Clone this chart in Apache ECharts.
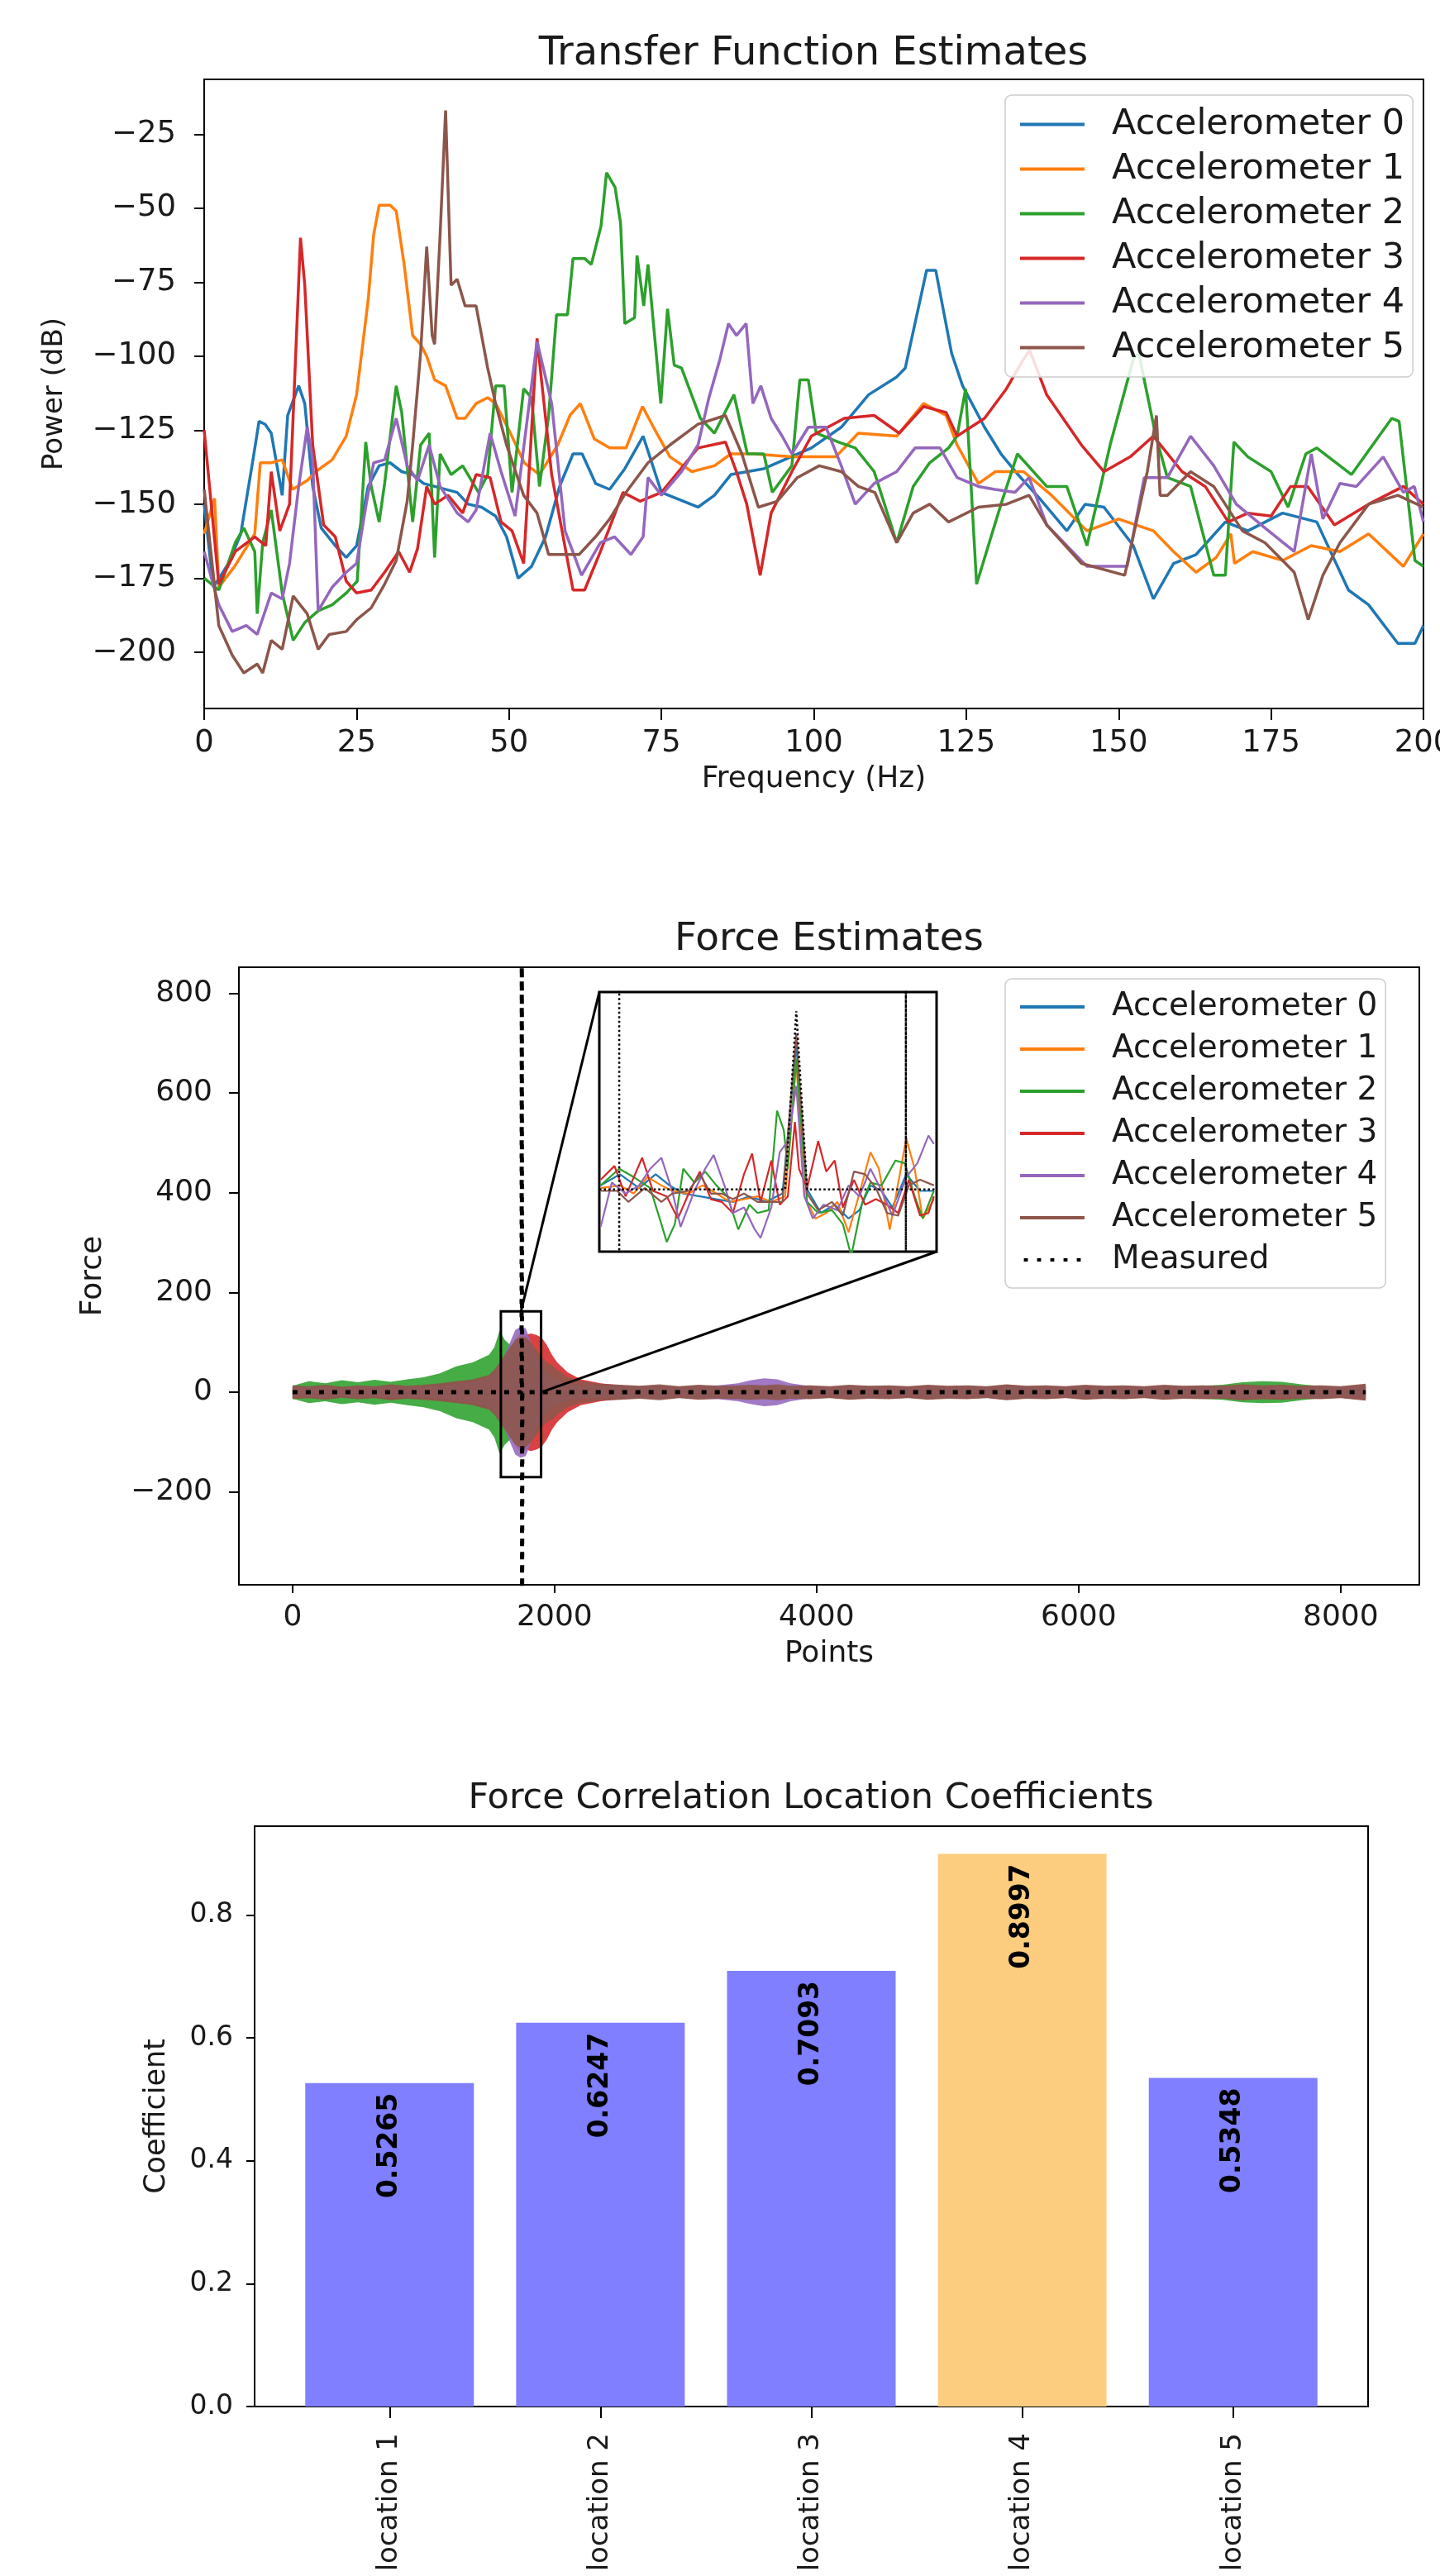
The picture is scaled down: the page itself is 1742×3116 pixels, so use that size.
<!DOCTYPE html>
<html>
<head>
<meta charset="utf-8">
<script src="https://cdn.jsdelivr.net/npm/echarts@6.0.0/dist/echarts.min.js"></script>
<style>
html, body { margin: 0; padding: 0; background: #fff; }
#main { width: 1742px; height: 3116px; }
</style>
</head>
<body>
<div id="main"></div>
<script>
// ---------- Transfer Function Estimates: [frequency Hz, power dB] ----------
const tfAcc0 = [[0,-150],[1.5,-178],[4,-170],[6,-160],[8,-135],[9,-122],[10,-123],[11,-126],[12.8,-147],[13.7,-120],[15.5,-110],[16.5,-116],[17.8,-144],[19.2,-158],[21.5,-164],[23.3,-168],[25,-164],[26.9,-144],[28.7,-137],[30.5,-136],[32.4,-139],[34.2,-140],[36,-143],[37.8,-144],[41.5,-146],[43.3,-150],[45.5,-151],[47.8,-154],[49.6,-161],[51.5,-175],[53.7,-171],[56,-161],[58.3,-144],[60.5,-133],[62,-133],[64.2,-143],[66.5,-145],[69,-138],[72,-127],[75,-146],[81,-151],[83.7,-147],[86.4,-140],[91.8,-138],[99.6,-131],[104.5,-124],[109,-113],[113.6,-107],[115,-104],[118.5,-71],[120,-71],[122.6,-99],[124.4,-110],[128,-124],[130.7,-133],[133.5,-140],[137,-148],[141.5,-159],[144.5,-150],[147.6,-151],[152.4,-164],[155.7,-182],[159,-170],[162.7,-167],[167.5,-156],[171.2,-159],[176.9,-153],[182.5,-156],[187.7,-179],[191,-184],[195.8,-197],[198.6,-197],[200,-191]];
const tfAcc1 = [[0,-160],[1.7,-148],[2.4,-178],[5,-171],[8.3,-160],[9.2,-136],[11,-136],[12.8,-135],[14.5,-145],[16.9,-142],[18.3,-139],[21,-135],[23.3,-127],[25,-113],[26.9,-81],[27.8,-59],[28.7,-49],[30.5,-49],[31.5,-51],[32.8,-69],[34.2,-93],[35.5,-96],[36.5,-100],[37.8,-108],[39.6,-110],[41.5,-121],[42.8,-121],[44.6,-116],[46.5,-114],[47.8,-116],[50,-125],[52.5,-136],[55,-140],[58,-130],[60,-120],[61.7,-116],[64,-128],[66.5,-131],[69.2,-131],[71.9,-117],[73.7,-124],[76.4,-134],[80,-139],[83.7,-137],[86.4,-133],[90,-133],[96.4,-134],[103.6,-134],[107.3,-126],[113.6,-127],[118,-116],[121.7,-120],[123.5,-130],[127,-143],[129.8,-139],[134.4,-139],[139,-147],[144.8,-159],[150,-155],[155.7,-159],[159,-166],[162.7,-173],[166,-168],[168.4,-160],[169,-170],[172,-166],[176.9,-169],[181.6,-164],[186.3,-166],[191,-160],[196.7,-171],[200,-160]];
const tfAcc2 = [[0,-175],[2.4,-179],[5.1,-163],[6.5,-158],[8.3,-166],[8.7,-187],[9.6,-163],[11,-152],[12.8,-180],[14.6,-196],[16.5,-190],[18.7,-186],[21,-184],[23.3,-180],[25.1,-176],[26.5,-129],[27.4,-144],[28.7,-156],[29.6,-143],[31.5,-110],[32.4,-119],[34.2,-156],[35.5,-130],[36.9,-126],[37.8,-168],[38.7,-133],[40.5,-140],[42.4,-137],[45,-146],[46.5,-140],[47.8,-110],[49.2,-110],[50.5,-146],[52.4,-111],[53.7,-114],[55,-144],[56.5,-120],[57.8,-86],[59.6,-86],[60.5,-67],[62.4,-67],[63.5,-69],[65.1,-56],[66,-38],[67.4,-43],[68.3,-55],[69,-89],[70.6,-87],[71,-66],[72.1,-83],[72.8,-69],[74.9,-116],[76,-84],[77.1,-103],[78.3,-104],[81.4,-121],[83.7,-126],[86.9,-113],[89.1,-133],[91.8,-133],[93.2,-146],[96.4,-137],[97.7,-108],[99.1,-108],[100.4,-126],[104,-129],[106.8,-131],[109.9,-139],[113.6,-163],[116.3,-144],[119,-136],[122.1,-131],[123.5,-127],[124.9,-111],[126.7,-177],[130.7,-150],[133.4,-133],[138.2,-144],[141.5,-144],[144.8,-164],[148.6,-130],[152.4,-101],[153.3,-99],[156.1,-127],[158,-141],[161.8,-144],[165.6,-174],[167.5,-174],[168.9,-129],[171.2,-134],[175,-139],[177.8,-151],[180.7,-133],[182.5,-131],[188.2,-140],[194.8,-121],[196,-122],[198.6,-169],[200,-171]];
const tfAcc3 = [[0,-125],[2.4,-177],[5.1,-166],[8.3,-161],[10.1,-164],[11,-139],[12.4,-159],[14,-150],[15.8,-60],[16.5,-76],[17.8,-130],[19.6,-157],[21.5,-161],[23.3,-176],[25,-180],[27.4,-179],[29.6,-173],[31.9,-166],[33.7,-173],[35,-165],[36.5,-144],[37.8,-150],[40,-147],[42.4,-153],[44.6,-140],[46.9,-141],[48.7,-156],[50.5,-159],[52.4,-170],[54.6,-94],[57,-140],[60.5,-179],[62.4,-179],[65,-166],[68.7,-146],[71.5,-149],[75,-146],[81,-131],[85.5,-129],[87.3,-139],[89,-150],[91.2,-174],[93,-153],[96.4,-139],[99.6,-127],[105,-121],[109.9,-120],[114,-126],[118,-117],[121.7,-119],[123.5,-127],[128,-121],[131.6,-111],[134.4,-101],[135.4,-98],[138.2,-113],[143.9,-130],[147.6,-139],[151.9,-134],[155.7,-127],[160.4,-139],[164.2,-144],[168,-156],[171.2,-153],[175,-154],[178.2,-144],[181,-144],[185.4,-157],[191,-150],[196.7,-144],[200,-150]];
const tfAcc4 = [[0,-166],[2.4,-184],[4.6,-193],[6.9,-191],[8.7,-194],[11,-180],[12.8,-182],[14,-170],[15.5,-144],[16.9,-124],[17.8,-135],[18.7,-186],[21,-178],[23.3,-173],[25,-170],[26.5,-151],[27.8,-136],[29.6,-135],[31.5,-121],[33.3,-137],[35,-142],[36.9,-130],[38.7,-144],[41.5,-153],[43.3,-156],[44.6,-152],[46.9,-126],[48.7,-139],[51,-154],[54.6,-95],[57,-116],[59.2,-159],[61.9,-174],[65,-163],[67.3,-161],[70,-167],[72,-161],[72.8,-141],[75,-147],[78.3,-139],[81,-130],[82.8,-114],[84.6,-101],[86,-89],[87.3,-93],[88.9,-89],[90,-116],[91.3,-110],[93,-121],[94.8,-127],[96.4,-133],[99.1,-124],[102,-124],[104.5,-137],[106.8,-150],[109.9,-143],[113.6,-139],[116.6,-131],[120.7,-131],[123.5,-141],[127,-144],[129.7,-145],[133,-146],[135.3,-141],[138.2,-157],[144.8,-171],[151.4,-171],[154.2,-141],[158,-141],[161.8,-127],[165.6,-137],[169.3,-150],[174,-158],[178.8,-166],[181.6,-133],[183.5,-155],[186.3,-143],[189,-144],[193.4,-134],[196.7,-146],[198.5,-144],[200,-156]];
const tfAcc5 = [[0,-145],[2.4,-191],[4.6,-201],[6.5,-207],[8.7,-204],[9.6,-207],[11,-196],[12.8,-199],[14.6,-181],[16.9,-187],[18.7,-199],[20.5,-194],[23.3,-193],[25,-189],[27.4,-185],[29.6,-177],[31.5,-169],[33.3,-149],[34.2,-130],[35.5,-99],[36.5,-63],[37.4,-93],[37.8,-96],[38.7,-59],[39.6,-17],[40.5,-76],[41.5,-74],[42.8,-83],[44.6,-83],[46.5,-104],[47.8,-116],[49.6,-130],[52.4,-147],[54.6,-153],[56.5,-167],[59,-167],[61.5,-167],[64.2,-161],[66.5,-155],[69.2,-146],[72.8,-136],[76.4,-130],[81,-123],[85.5,-120],[88.2,-133],[90.9,-151],[94,-149],[97.3,-141],[100.9,-137],[104.5,-139],[107.3,-144],[110,-146],[113.6,-163],[116.3,-153],[119,-150],[122.1,-156],[127,-151],[131.6,-150],[135.3,-147],[138.2,-157],[143.9,-170],[151,-174],[154.7,-139],[156.2,-120],[156.8,-147],[158,-147],[161.8,-139],[165.6,-144],[170.3,-159],[174,-163],[178.8,-173],[181.1,-189],[183.5,-174],[186.3,-163],[191,-150],[195.8,-147],[200,-151]];
const tfTicksX = [0, 25, 50, 75, 100, 125, 150, 175, 200];
const tfTicksY = [-200, -175, -150, -125, -100, -75, -50, -25];

// ---------- Force Estimates: spread of each estimate around zero at sample positions ----------
const forcePos = [0,125,250,375,500,625,750,875,1000,1125,1250,1375,1500,
  1540,1580,1620,1660,1700,1740,1780,1820,1860,1900,1940,1980,2020,2060,2100,
  2200,2350,2500,2650,2800,2950,3100,3250,3400,3500,3600,3700,3800,
  3950,4100,4250,4400,4550,4700,4850,5000,5150,5300,5450,5600,5750,5900,6050,6200,6350,6500,6650,6800,6950,7100,7250,7400,7550,7700,7850,8000,8191];
const forceAmp0 = [10,9,11,8,10,9,11,10,11,13,16,20,28, 38,50,65,85,100,110,105,85,65,50,38,30,24,18,14, 12,10,12,9,11,9,11,10,11,12,11,12,10,
  11,9,11,10,11,9,11,10,11,9,12,10,11,9,11,10,11,9,11,10,11,10,12,11,11,10,11,9,12];
const forceAmp1 = [11,10,12,9,11,10,12,11,12,14,17,22,30, 40,55,70,90,108,120,115,95,70,55,42,32,26,20,15, 13,11,13,10,12,10,12,11,12,13,12,13,11,
  12,10,12,11,12,10,12,11,12,10,13,11,12,10,12,11,12,10,12,11,12,11,13,12,12,11,12,10,14];
const forceAmp2 = [13,22,18,24,20,25,21,26,30,38,52,60,75, 90,123,105,95,85,80,70,55,40,30,25,20,17,15,14, 13,12,14,11,13,10,13,11,12,12,12,13,11,
  12,10,13,11,12,10,13,11,12,10,14,11,12,10,13,11,12,10,13,11,13,15,20,22,21,16,12,11,14];
const forceAmp3 = [12,11,13,10,12,11,14,12,13,16,20,24,32, 42,55,70,85,100,110,115,118,115,110,95,75,60,50,40, 26,18,14,12,14,11,14,12,13,14,13,15,12,
  13,11,14,12,13,11,14,12,13,11,15,12,13,11,14,12,13,11,14,12,13,12,15,13,14,12,13,11,16];
const forceAmp4 = [11,10,12,9,11,10,12,11,12,14,18,22,30, 40,55,75,100,125,131,128,100,75,55,40,32,26,20,16, 13,12,13,11,13,10,13,14,18,24,28,26,18,
  12,10,12,11,12,10,12,11,12,10,13,11,12,10,12,11,12,10,12,11,12,11,13,12,12,11,12,10,13];
const forceAmp5 = [14,12,15,11,14,12,16,13,15,18,22,26,35, 45,60,75,90,105,112,110,100,85,70,60,55,45,38,30, 22,17,15,13,16,12,15,13,14,15,14,16,13,
  14,12,15,13,14,12,15,13,14,12,16,13,14,12,15,13,14,12,15,13,14,13,16,14,15,13,14,12,17];
const measuredMain = [[0,0],[1748,0],[1750,1000],[1752,-500],[1754,0],[8191,0]];
const zoomBox = [[1590, -170, 1897, 162]];
const forceTicksX = [0, 2000, 4000, 6000, 8000];
const forceTicksY = [-200, 0, 200, 400, 600, 800];

// ---------- inset (zoomed force estimates) ----------
const insetAcc0 = [[0.4,3.8],[6.1,14.5],[11.8,1.2],[16.7,14.5],[20.8,3.8],[24.9,-4.1],[29.8,-6.8],[34.7,-9.5],[39.6,-12.1],[44.5,-6.8],[49.4,-12.1],[54.3,-4.1],[58.4,139.5],[61.6,0],[65.7,-22.8],[69.8,-14.8],[73.9,-28.1],[77.1,-20.1],[80.4,3.8],[83.7,-1.5],[86.9,-17.4],[91,14.5],[95.1,-1.5],[99.2,-1.5]];
const insetAcc1 = [[0.4,1.2],[6.1,3.8],[10.2,-4.1],[14.3,11.8],[18.4,3.8],[21.6,-1.5],[26.5,-4.1],[30.6,3.8],[34.7,-4.1],[38.8,-12.1],[42.9,-9.5],[46.9,-6.8],[51,-12.1],[55.1,-6.8],[58.4,123.5],[60.8,-6.8],[64.1,-28.1],[67.3,-22.8],[70.6,-12.1],[73.9,-41.4],[77.1,-4.1],[80.4,35.8],[82.9,19.8],[86.1,-38.7],[89.4,19.8],[91,49],[93.5,19.8],[95.9,-28.1],[99.2,-9.5]];
const insetAcc2 = [[0.4,3.8],[5.9,19.8],[10.2,11.8],[15.1,1.2],[18.4,-33.4],[20,-50.7],[22.4,-33.4],[24.9,19.8],[28.2,6.5],[31.4,17.1],[34.7,3.8],[38,-6.8],[41.2,-38.7],[44.5,-14.8],[46.9,-22.8],[50.2,-20.1],[52.7,75.7],[54.7,57],[55.9,19.8],[58.4,126],[60,57],[61.6,-12.1],[64.9,-22.8],[69,-20.1],[72.2,-33.4],[74.7,-64],[78,-12.1],[80.4,6.5],[83.7,3.8],[87.8,27.8],[90.6,25.1],[93.5,-6.8],[95.9,-28.1],[99.2,-1.5]];
const insetAcc3 = [[0.4,9.2],[4.5,22.5],[7.8,-6.8],[12.7,30.4],[15.9,-1.5],[20,-6.8],[23.3,-28.1],[26.5,-4.1],[29.8,17.1],[33.1,-9.5],[36.3,-12.1],[39.6,-22.8],[42.9,14.5],[45.3,34.4],[47.8,-12.1],[51,27.8],[53.5,-14.8],[55.9,-6.8],[58,65],[59.2,19.8],[61.6,1.2],[64.9,46.4],[67.3,17.1],[69.8,27.8],[72.2,-17.4],[75.5,9.2],[78.8,-14.8],[82,-9.5],[85.3,-14.8],[88.6,-22.8],[91.8,9.2],[95.1,-25.4],[97.6,-22.8],[99.2,-6.8]];
const insetAcc4 = [[0.4,-36.1],[3.7,6.5],[7.8,-4.1],[11.8,3.8],[15.1,19.8],[18.4,30.4],[21.6,-1.5],[24.1,-36.1],[28.2,-1.5],[31.4,19.8],[33.9,33.1],[37.1,3.8],[39.6,-22.8],[42.9,-17.4],[46.1,-38.7],[47.8,-46.7],[51,-17.4],[53.5,35.8],[55.9,46.4],[58.4,99.6],[60.8,-6.8],[63.3,-28.1],[66.5,-14.8],[70.6,-20.1],[73.9,3.8],[77.1,-6.8],[80.4,19.8],[83.7,-1.5],[86.9,-25.4],[91,11.8],[94.3,25.1],[97.6,51.7],[99.2,43.7]];
const insetAcc5 = [[0.4,-1.5],[5.3,-1.5],[8.6,-12.1],[13.5,1.2],[18.4,-12.1],[21.6,-4.1],[26.5,-1.5],[29.8,14.5],[33.1,-4.1],[36.3,-4.1],[39.6,-9.5],[42.9,-4.1],[46.9,-12.1],[51,-12.1],[54.3,-12.1],[58.4,150],[61.6,-4.1],[64.9,-20.1],[69,-12.1],[72.2,-25.4],[75.5,17.1],[78.8,14.5],[82,1.2],[85.3,-22.8],[88.6,-25.4],[91.8,3.8],[95.1,9.2],[99.2,3.8]];
const insetMeasured = [[0,0],[5.9,0],[5.9,400],[5.9,-200],[5.9,0],[55.1,0],[58.4,171.5],[61.6,0],[90.9,0],[90.9,400],[90.9,-200],[90.9,0],[100,0]];

// ---------- Force Correlation Location Coefficients ----------
const locNames = ['location 1', 'location 2', 'location 3', 'location 4', 'location 5'];
const coeffs = [0.5265, 0.6247, 0.7093, 0.8997, 0.5348];
const coeffTicks = [0, 0.2, 0.4, 0.6, 0.8];
const locTicks = [0, 1, 2, 3, 4];

const accNames = ['Accelerometer 0', 'Accelerometer 1', 'Accelerometer 2', 'Accelerometer 3', 'Accelerometer 4', 'Accelerometer 5'];
const colors = ['#1f77b4', '#ff7f0e', '#2ca02c', '#d62728', '#9467bd', '#8c564b'];
const tfData = [tfAcc0, tfAcc1, tfAcc2, tfAcc3, tfAcc4, tfAcc5];
const forceAmps = [forceAmp0, forceAmp1, forceAmp2, forceAmp3, forceAmp4, forceAmp5];
const insetData = [insetAcc0, insetAcc1, insetAcc2, insetAcc3, insetAcc4, insetAcc5];

const FONT = 'DejaVu Sans';
const TXT = '#1a1a1a';
const minus = v => (v < 0 ? '\u2212' + Math.abs(v) : String(v));

const inset = { left: 725, top: 1200, width: 408, height: 314 };

function axis(o) {
  return {
    type: 'value', gridIndex: o.grid, min: o.min, max: o.max, show: o.show !== false,
    name: o.name || '', nameLocation: 'middle', nameGap: o.nameGap || 0,
    nameTextStyle: { fontFamily: FONT, fontSize: o.nameSize || 36, color: TXT },
    axisLine: { show: true, onZero: false, lineStyle: { color: '#000', width: 2 } },
    axisTick: { show: true, inside: false, length: o.tickLen || 10, lineStyle: { color: '#000', width: 2 }, customValues: o.ticks },
    axisLabel: { show: true, customValues: o.ticks, margin: o.margin || 10, rotate: o.rotate || 0,
      fontFamily: FONT, fontSize: o.size || 36, color: TXT, formatter: o.fmt || minus },
    splitLine: { show: false }
  };
}

const frame = { show: true, borderColor: '#000', borderWidth: 2, backgroundColor: '#fff', outerBoundsMode: 'none', containLabel: false };

const legendBase = {
  orient: 'vertical', icon: 'rect', itemWidth: 78, itemHeight: 4, itemGap: 11,
  padding: [14, 10, 14, 18], borderColor: '#cccccc', borderWidth: 1.5, borderRadius: 8,
  backgroundColor: 'rgba(255,255,255,0.85)', selectedMode: false,
  textStyle: { fontFamily: FONT, fontSize: 43, color: TXT, lineHeight: 40, padding: [0, 0, 0, 28] }
};
const dotsIcon = 'path://M0,0h1.2v1h-1.2z M4,0h1.2v1h-1.2z M8,0h1.2v1h-1.2z M12,0h1.2v1h-1.2z M16,0h1.2v1h-1.2z';

const series = [];

// top chart lines
tfData.forEach((d, i) => series.push({
  type: 'line', name: accNames[i], xAxisIndex: 0, yAxisIndex: 0, data: d,
  showSymbol: false, symbol: 'none', clip: true, animation: false,
  lineStyle: { width: 3.5, color: colors[i] }, itemStyle: { color: colors[i] }
}));

// force estimate bands
forceAmps.forEach((amp, i) => series.push({
  type: 'custom', name: accNames[i], xAxisIndex: 1, yAxisIndex: 1,
  data: forcePos.map((x, k) => [x, amp[k]]), animation: false,
  itemStyle: { color: colors[i] },
  renderItem: (params, api) => {
    if (params.dataIndex !== 0) return null;
    const up = forcePos.map((x, k) => api.coord([x, amp[k]]));
    const lo = forcePos.map((x, k) => api.coord([x, -amp[k]])).reverse();
    return { type: 'polygon', shape: { points: up.concat(lo) }, style: { fill: colors[i], opacity: 0.88 } };
  }
}));

series.push({
  type: 'line', name: 'Measured', xAxisIndex: 1, yAxisIndex: 1, data: measuredMain,
  showSymbol: false, symbol: 'none', clip: true, animation: false, z: 5,
  lineStyle: { width: 5, color: '#000', type: [6, 10] }, itemStyle: { color: '#000' }
});

series.push({
  type: 'custom', name: 'zoomBox', xAxisIndex: 1, yAxisIndex: 1, data: zoomBox,
  encode: { x: [0, 2], y: [1, 3] }, animation: false, z: 6,
  renderItem: (params, api) => {
    const p0 = api.coord([api.value(0), api.value(1)]);
    const p1 = api.coord([api.value(2), api.value(3)]);
    return { type: 'rect', shape: { x: p0[0], y: p1[1], width: p1[0] - p0[0], height: p0[1] - p1[1] },
      style: { fill: 'none', stroke: '#000', lineWidth: 3 } };
  }
});

// inset lines
insetData.forEach((d, i) => series.push({
  type: 'line', name: 'inset ' + i, xAxisIndex: 2, yAxisIndex: 2, data: d,
  showSymbol: false, symbol: 'none', clip: true, animation: false,
  lineStyle: { width: 2.2, color: colors[i] }, itemStyle: { color: colors[i] }
}));
series.push({
  type: 'line', name: 'inset measured', xAxisIndex: 2, yAxisIndex: 2, data: insetMeasured,
  showSymbol: false, symbol: 'none', clip: true, animation: false,
  lineStyle: { width: 2.5, color: '#000', type: [2.5, 3] }
});

// bars
const maxCoeff = Math.max(...coeffs);
series.push({
  type: 'bar', name: 'coefficients', xAxisIndex: 3, yAxisIndex: 3,
  data: coeffs.map((v, i) => [locTicks[i], v]), barWidth: 204, animation: false,
  itemStyle: { color: p => (p.value[1] === maxCoeff ? '#fdcd7f' : '#7f7fff') },
  label: { show: true, position: 'insideTop', distance: 12, rotate: 90, align: 'right', verticalAlign: 'middle',
    formatter: p => p.value[1].toFixed(4), fontFamily: FONT, fontWeight: 'bold', fontSize: 33, color: '#000' }
});

const titleText = (id, x, y, text, size) => ({
  type: 'text', id, x, y, z: 20,
  style: { text, fill: TXT, font: size + 'px "' + FONT + '"', align: 'center', verticalAlign: 'middle',
    textAlign: 'center', textVerticalAlign: 'middle' }
});

const option = {
  backgroundColor: '#fff',
  animation: false,
  grid: [
    Object.assign({ left: 247, top: 96, width: 1475, height: 761 }, frame),
    Object.assign({ left: 289, top: 1170, width: 1428, height: 747 }, frame),
    Object.assign({ left: inset.left, top: inset.top, width: inset.width, height: inset.height }, frame, { borderWidth: 3, z: 3 }),
    Object.assign({ left: 308, top: 2209, width: 1347, height: 702 }, frame)
  ],
  xAxis: [
    axis({ grid: 0, min: 0, max: 200, ticks: tfTicksX, name: 'Frequency (Hz)', nameGap: 68, margin: 24, tickLen: 14, size: 37 }),
    axis({ grid: 1, min: -409.55, max: 8600.55, ticks: forceTicksX, name: 'Points', nameGap: 66, margin: 22, size: 36 }),
    axis({ grid: 2, min: 0, max: 100, ticks: [], show: false }),
    axis({ grid: 3, min: -0.64, max: 4.64, ticks: locTicks, margin: 32, tickLen: 14, size: 34, rotate: 90,
      fmt: v => locNames[Math.round(v)] })
  ],
  yAxis: [
    axis({ grid: 0, min: -219, max: -6.5, ticks: tfTicksY, name: 'Power (dB)', nameGap: 164, margin: 34, tickLen: 12, size: 37, nameSize: 34 }),
    axis({ grid: 1, min: -386, max: 852, ticks: forceTicksY, name: 'Force', nameGap: 158, margin: 32, tickLen: 12, size: 36 }),
    axis({ grid: 2, min: -60, max: 190, ticks: [], show: false }),
    axis({ grid: 3, min: 0, max: 0.9447, ticks: coeffTicks, name: 'Coefficient', nameGap: 101, margin: 26, size: 33, nameSize: 35,
      fmt: v => v.toFixed(1) })
  ],
  legend: [
    Object.assign({ id: 'lgTop', left: 1216, top: 115, data: accNames }, legendBase),
    Object.assign({ id: 'lgMid', left: 1216, top: 1184,
      data: accNames.concat([{ name: 'Measured', icon: dotsIcon, itemStyle: { color: '#000' } }]) }, legendBase,
      { textStyle: Object.assign({}, legendBase.textStyle, { fontSize: 39 }) })
  ],
  graphic: [
    titleText('t1', 984, 66, 'Transfer Function Estimates', 48),
    titleText('t2', 1003, 1137, 'Force Estimates', 47),
    titleText('t3', 981, 2176, 'Force Correlation Location Coefficients', 43)
  ],
  series
};

const chart = echarts.init(document.getElementById('main'), null, { renderer: 'canvas', width: 1742, height: 3116 });
chart.setOption(option);

// connector lines between the zoom box and the inset
const box = zoomBox[0];
const pTop = chart.convertToPixel({ gridIndex: 1 }, [(box[0] + box[2]) / 2, box[3]]);
const pRight = chart.convertToPixel({ gridIndex: 1 }, [box[2], 0]);
chart.setOption({
  graphic: [
    { type: 'line', id: 'c1', z: 20, shape: { x1: inset.left, y1: inset.top, x2: pTop[0], y2: pTop[1] }, style: { stroke: '#000', lineWidth: 3 } },
    { type: 'line', id: 'c2', z: 20, shape: { x1: inset.left + inset.width, y1: inset.top + inset.height, x2: pRight[0], y2: pRight[1] }, style: { stroke: '#000', lineWidth: 3 } }
  ]
});
</script>
</body>
</html>
